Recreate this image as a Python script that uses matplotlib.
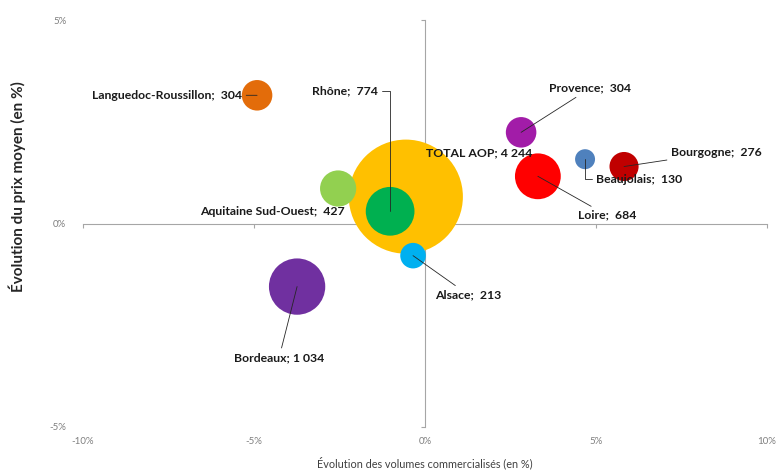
import numpy as np
import matplotlib.pyplot as plt
from matplotlib.ticker import FuncFormatter

plt.rcParams['font.family'] = ['Lato', 'DejaVu Sans']

# data: change in volume (%), change in mean price (%), volume
regions = ["TOTAL AOP", "Bordeaux", "Rhône", "Loire", "Aquitaine Sud-Ouest",
           "Languedoc-Roussillon", "Provence", "Bourgogne", "Alsace", "Beaujolais"]
vol_change = [-0.56, -3.74, -1.02, 3.30, -2.54, -4.91, 2.81, 5.82, -0.35, 4.68]
price_change = [0.66, -1.55, 0.30, 1.16, 0.86, 3.15, 2.24, 1.40, -0.79, 1.58]
volumes = [4244, 1034, 774, 684, 427, 304, 304, 276, 213, 130]
labels = ["TOTAL AOP; 4 244", "Bordeaux; 1 034", "Rhône;  774", "Loire;  684",
          "Aquitaine Sud-Ouest;  427", "Languedoc-Roussillon;  304", "Provence;  304",
          "Bourgogne;  276", "Alsace;  213", "Beaujolais;  130"]
colors = ["#FFC000", "#7030A0", "#00B050", "#FF0000", "#92D050",
          "#E36C0A", "#A21CA8", "#C00000", "#00B0F0", "#4F81BD"]

xticks = [-10, -5, 0, 5, 10]
yticks = [-5, 0, 5]

# label placement: offset from bubble centre in px (x right, y up), alignment, leader style
px = 0.72
elbow = "angle,angleA=0,angleB=90,rad=0"
lab_style = {
    "TOTAL AOP": ((20, 44), "left", None),
    "Bordeaux": ((-18, -71), "center", "arc3"),
    "Rhône": ((-12, 120), "right", elbow),
    "Loire": ((40, -39), "left", "arc3"),
    "Aquitaine Sud-Ouest": ((7, -23), "right", None),
    "Languedoc-Roussillon": ((-15, 0), "right", "arc3"),
    "Provence": ((28, 44), "left", "arc3"),
    "Bourgogne": ((47, 14), "left", "arc3"),
    "Alsace": ((22, -39), "left", "arc3"),
    "Beaujolais": ((11, -20), "left", elbow),
}

fig = plt.figure(figsize=(7.79, 4.70), dpi=100)
ax = fig.add_axes([83 / 779, 1 - 427 / 470, (767 - 83) / 779, (427 - 20) / 470])

ax.scatter(vol_change, price_change, s=np.array(volumes) * 1.59, c=colors,
           edgecolors="none", zorder=3)

for name, x, y, lab in zip(regions, vol_change, price_change, labels):
    (dx, dy), ha, conn = lab_style[name]
    arrow = None
    if conn is not None:
        arrow = dict(arrowstyle="-", color="#262626", lw=0.6, shrinkA=1, shrinkB=0,
                     connectionstyle=conn)
    ax.annotate(lab, xy=(x, y), xytext=(dx * px, dy * px), textcoords="offset points",
                ha=ha, va="center", fontsize=8.8, fontweight="bold", color="#1a1a1a",
                arrowprops=arrow, zorder=5)

ax.set_xlim(-10, 10)
ax.set_ylim(-5, 5)

axis_col = "#a6a6a6"
for side in ["top", "right"]:
    ax.spines[side].set_visible(False)
ax.spines["bottom"].set_position(("data", 0))
ax.spines["left"].set_position(("data", 0))
ax.spines["bottom"].set_color(axis_col)
ax.spines["left"].set_color(axis_col)
ax.spines["bottom"].set_zorder(1)
ax.spines["left"].set_zorder(1)
ax.set_xticks(xticks)
ax.set_yticks(yticks)
ax.tick_params(axis="both", colors=axis_col, length=3, width=0.8,
               labelbottom=False, labelleft=False)

pct = FuncFormatter(lambda v, p: f"{v:.0f}%")
secx = ax.secondary_xaxis(0)
secx.set_xticks(xticks)
secx.xaxis.set_major_formatter(pct)
secx.spines["bottom"].set_visible(False)
secx.tick_params(length=0, pad=7, labelsize=7, labelcolor="#7f7f7f")

secy = ax.secondary_yaxis(0)
secy.set_yticks(yticks)
secy.yaxis.set_major_formatter(pct)
secy.spines["left"].set_visible(False)
secy.tick_params(length=0, pad=12, labelsize=7, labelcolor="#7f7f7f")

ax.set_xlabel("Évolution des volumes commercialisés (en %)", fontsize=7.8,
              color="#404040")
ax.xaxis.set_label_coords(0.5, -0.072)
ax.set_ylabel("Évolution du prix moyen (en %)", fontsize=11, fontweight="bold",
              color="#262626")
ax.yaxis.set_label_coords(-0.084, 0.59)

fig.savefig("out.png", dpi=100)
